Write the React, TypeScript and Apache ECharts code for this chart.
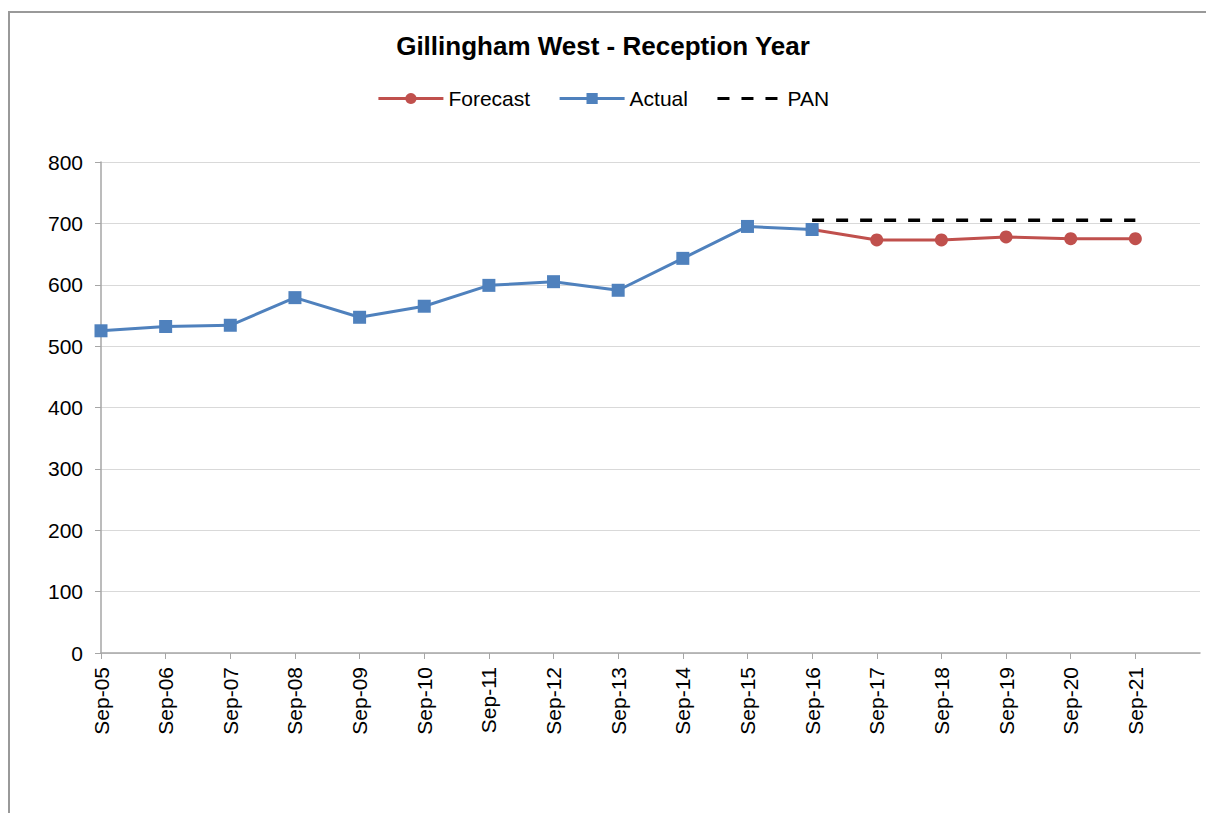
import React, { useEffect, useRef } from "react";
import * as echarts from "echarts";

const categories = [
  "Sep-05", "Sep-06", "Sep-07", "Sep-08", "Sep-09", "Sep-10", "Sep-11", "Sep-12",
  "Sep-13", "Sep-14", "Sep-15", "Sep-16", "Sep-17", "Sep-18", "Sep-19", "Sep-20", "Sep-21",
];
const actual: (number | null)[] = [525, 532, 534, 579, 547, 565, 599, 605, 591, 643, 695, 690];
const forecast: (number | null)[] = [null, null, null, null, null, null, null, null, null, null, null, 690, 673, 673, 678, 675, 675];
const pan: (number | null)[] = [null, null, null, null, null, null, null, null, null, null, null, 705, 705, 705, 705, 705, 705];

const FONT = "'Liberation Sans', Arial, sans-serif";

export default function App() {
  const ref = useRef<HTMLDivElement>(null);
  useEffect(() => {
    if (!ref.current) return;
    const chart = echarts.init(ref.current, undefined, { renderer: "svg" });
    const axisCats = [...categories, ""];
    chart.setOption({
      animation: false,
      backgroundColor: "#ffffff",
      textStyle: { fontFamily: FONT },
      title: {
        text: "Gillingham West - Reception Year",
        left: "center",
        top: 28,
        textStyle: { fontFamily: FONT, fontSize: 26, fontWeight: "bold", color: "#000" },
      },
      legend: {
        top: 83,
        left: "center",
        itemWidth: 65,
        itemHeight: 14,
        itemGap: 28,
        lineStyle: { width: 3 },
        textStyle: { fontFamily: FONT, fontSize: 21, color: "#000" },
        data: ["Forecast", "Actual", "PAN"],
      },
      graphic: [
        {
          type: "rect",
          shape: { x: 9, y: 12, width: 1400, height: 1000 },
          style: { fill: "none", stroke: "#999999", lineWidth: 2 },
          silent: true,
        },
      ],
      grid: { left: 101, right: 6, top: 162, bottom: 160, containLabel: false },
      xAxis: {
        type: "category",
        data: axisCats,
        boundaryGap: false,
        axisLine: { lineStyle: { color: "#a6a6a6", width: 1.5 } },
        axisTick: {
          show: true,
          length: 6,
          inside: false,
          interval: (idx: number, val: string) => val !== "",
          lineStyle: { color: "#a6a6a6" },
        },
        axisLabel: {
          rotate: 90,
          margin: 14,
          interval: 0,
          fontFamily: FONT,
          fontSize: 21,
          color: "#000",
        },
        splitLine: { show: false },
      },
      yAxis: {
        type: "value",
        min: 0,
        max: 800,
        interval: 100,
        axisLine: { show: true, lineStyle: { color: "#a6a6a6", width: 1.5 } },
        axisTick: { show: true, length: 6, lineStyle: { color: "#a6a6a6" } },
        axisLabel: { margin: 18, fontFamily: FONT, fontSize: 21, color: "#000" },
        splitLine: { show: true, lineStyle: { color: "#d9d9d9", width: 1 } },
      },
      series: [
        {
          name: "Forecast",
          type: "line",
          data: forecast,
          symbol: "circle",
          symbolSize: 13,
          lineStyle: { color: "#C0504D", width: 3 },
          itemStyle: { color: "#C0504D" },
          z: 3,
        },
        {
          name: "Actual",
          type: "line",
          data: actual,
          symbol: "rect",
          symbolSize: 13,
          lineStyle: { color: "#4F81BD", width: 3 },
          itemStyle: { color: "#4F81BD" },
          z: 4,
        },
        {
          name: "PAN",
          type: "line",
          data: pan,
          symbol: "none",
          lineStyle: { color: "#000000", width: 3.5, type: [12, 12] },
          itemStyle: { color: "rgba(0,0,0,0)" },
          z: 2,
        },
      ],
    });
    return () => chart.dispose();
  }, []);
  return (
    <div
      ref={ref}
      style={{ position: "fixed", left: 0, top: 0, width: 1206, height: 813 }}
    />
  );
}
